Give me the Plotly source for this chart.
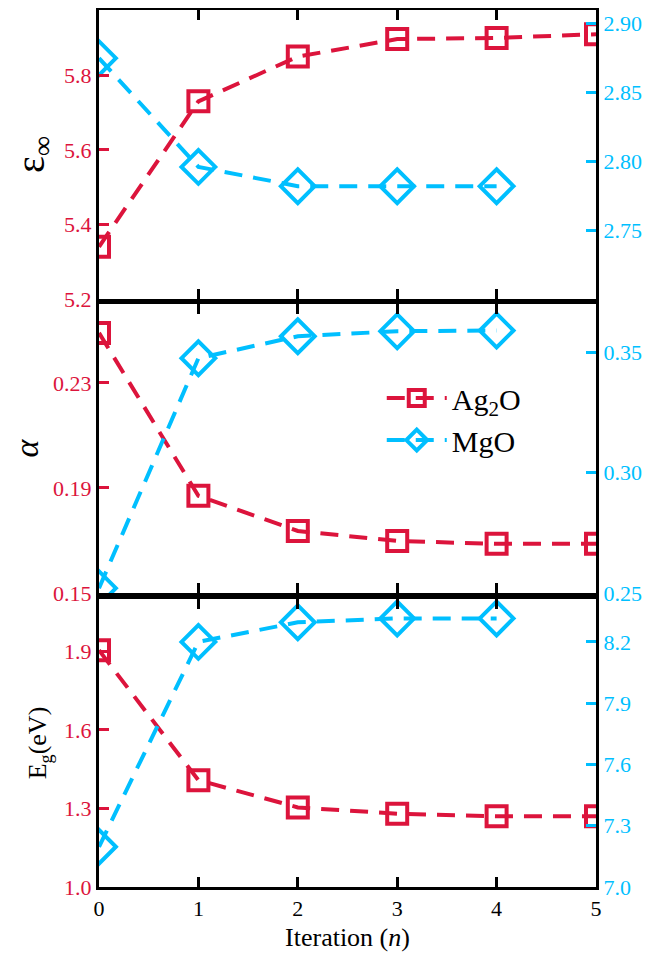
import plotly.graph_objects as go

iters_ag = [0, 1, 2, 3, 4, 5]
iters_mg = [0, 1, 2, 3, 4]

eps_ag2o = [5.34, 5.73, 5.85, 5.897, 5.90, 5.91]
eps_mgo = [2.875, 2.796, 2.782, 2.782, 2.782]

alpha_ag2o = [0.249, 0.187, 0.1736, 0.1698, 0.1687, 0.1687]
alpha_mgo = [0.252, 0.3475, 0.3566, 0.3587, 0.359]

eg_ag2o = [1.904, 1.408, 1.304, 1.28, 1.27, 1.27]
eg_mgo = [7.197, 8.20, 8.296, 8.315, 8.315]

RED = "#DC143C"
BLUE = "#00BFFF"
FONT = "'Liberation Serif', 'Times New Roman', 'DejaVu Serif', serif"

fig = go.Figure()

def add_pair(xa, ya_l, ya_r, ag, mg, show):
    fig.add_trace(go.Scatter(
        x=iters_ag, y=ag, xaxis=xa, yaxis=ya_l, name="Ag<sub>2</sub>O",
        mode="lines+markers", showlegend=show,
        line=dict(color=RED, width=4, dash="18px,11px"),
        marker=dict(symbol="square-open", size=20, color=RED, line=dict(width=4, color=RED))))
    fig.add_trace(go.Scatter(
        x=iters_mg, y=mg, xaxis=xa, yaxis=ya_r, name="MgO",
        mode="lines+markers", showlegend=show,
        line=dict(color=BLUE, width=4, dash="18px,11px"),
        marker=dict(symbol="diamond-open", size=26, color=BLUE, line=dict(width=4, color=BLUE))))

add_pair("x2", "y", "y2", eps_ag2o, eps_mgo, False)
add_pair("x3", "y3", "y4", alpha_ag2o, alpha_mgo, True)
add_pair("x", "y5", "y6", eg_ag2o, eg_mgo, False)

# page body has an 8px offset; positions below compensate for it
OFF = 8
XD = [(99 - OFF) / 650, (596 - OFF) / 650]
D_top = [1 - (299 - OFF) / 958, 1 - (10 - OFF) / 958]
D_mid = [1 - (593 - OFF) / 958, 1 - (304 - OFF) / 958]
D_bot = [1 - (887 - OFF) / 958, 1 - (599 - OFF) / 958]

tickfont_l = dict(family=FONT, size=22, color=RED)
tickfont_r = dict(family=FONT, size=22, color=BLUE)

def xaxis(anchor, labels):
    return dict(domain=XD, anchor=anchor, range=[0, 5], tickvals=[0, 1, 2, 3, 4, 5],
                showticklabels=labels, ticks="inside", ticklen=10, tickwidth=3, tickcolor="black",
                showline=True, linecolor="black", linewidth=3, mirror="ticks",
                showgrid=False, zeroline=False, automargin=False,
                tickfont=dict(family=FONT, size=22, color="black"))

def yleft(dom, anchor, rng, tv, tt, title, tsize, standoff):
    return dict(domain=dom, anchor=anchor, range=rng, tickvals=tv, ticktext=tt,
                ticks="inside", ticklen=10, tickwidth=3, tickcolor=RED,
                showline=True, linecolor="black", linewidth=3, automargin=False,
                showgrid=False, zeroline=False, tickfont=tickfont_l,
                title=dict(text=title, font=dict(family=FONT, size=tsize, color="black"), standoff=standoff))

def yright(overlay, anchor, rng, tv, tt):
    return dict(overlaying=overlay, anchor=anchor, side="right", range=rng, tickvals=tv, ticktext=tt,
                ticks="inside", ticklen=10, tickwidth=3, tickcolor=BLUE, automargin=False,
                showline=True, linecolor="black", linewidth=3,
                showgrid=False, zeroline=False, tickfont=tickfont_r)

fig.update_layout(
    width=650, height=958,
    margin=dict(l=0, r=0, t=0, b=0),
    paper_bgcolor="white", plot_bgcolor="white",
    font=dict(family=FONT),
    xaxis=dict(**xaxis("y5", True),
               title=dict(text="Iteration (<i>n</i>)", font=dict(family=FONT, size=26, color="black"), standoff=8)),
    xaxis2=xaxis("y", False),
    xaxis3=xaxis("y3", False),
    yaxis=yleft(D_top, "x2", [5.2, 5.975], [5.2, 5.4, 5.6, 5.8], ["5.2", "5.4", "5.6", "5.8"],
                "ε<sub>∞</sub>", 40, 12),
    yaxis2=yright("y", "x2", [2.70, 2.91], [2.75, 2.80, 2.85, 2.90], ["2.75", "2.80", "2.85", "2.90"]),
    yaxis3=yleft(D_mid, "x3", [0.15, 0.26], [0.15, 0.19, 0.23], ["0.15", "0.19", "0.23"],
                 "<i>α</i>", 34, 18),
    yaxis4=yright("y3", "x3", [0.25, 0.37], [0.25, 0.30, 0.35], ["0.25", "0.30", "0.35"]),
    yaxis5=yleft(D_bot, "x", [1.0, 2.1], [1.0, 1.3, 1.6, 1.9], ["1.0", "1.3", "1.6", "1.9"],
                 "E<sub>g</sub>(eV)", 26, 10),
    yaxis6=yright("y5", "x", [7.0, 8.41], [7.0, 7.3, 7.6, 7.9, 8.2], ["7.0", "7.3", "7.6", "7.9", "8.2"]),
    legend=dict(x=0.575, y=0.62, xanchor="left", yanchor="top", bgcolor="rgba(0,0,0,0)",
                font=dict(family=FONT, size=30, color="black"), itemwidth=60, tracegroupgap=4),
)

fig.write_html("out.html")
